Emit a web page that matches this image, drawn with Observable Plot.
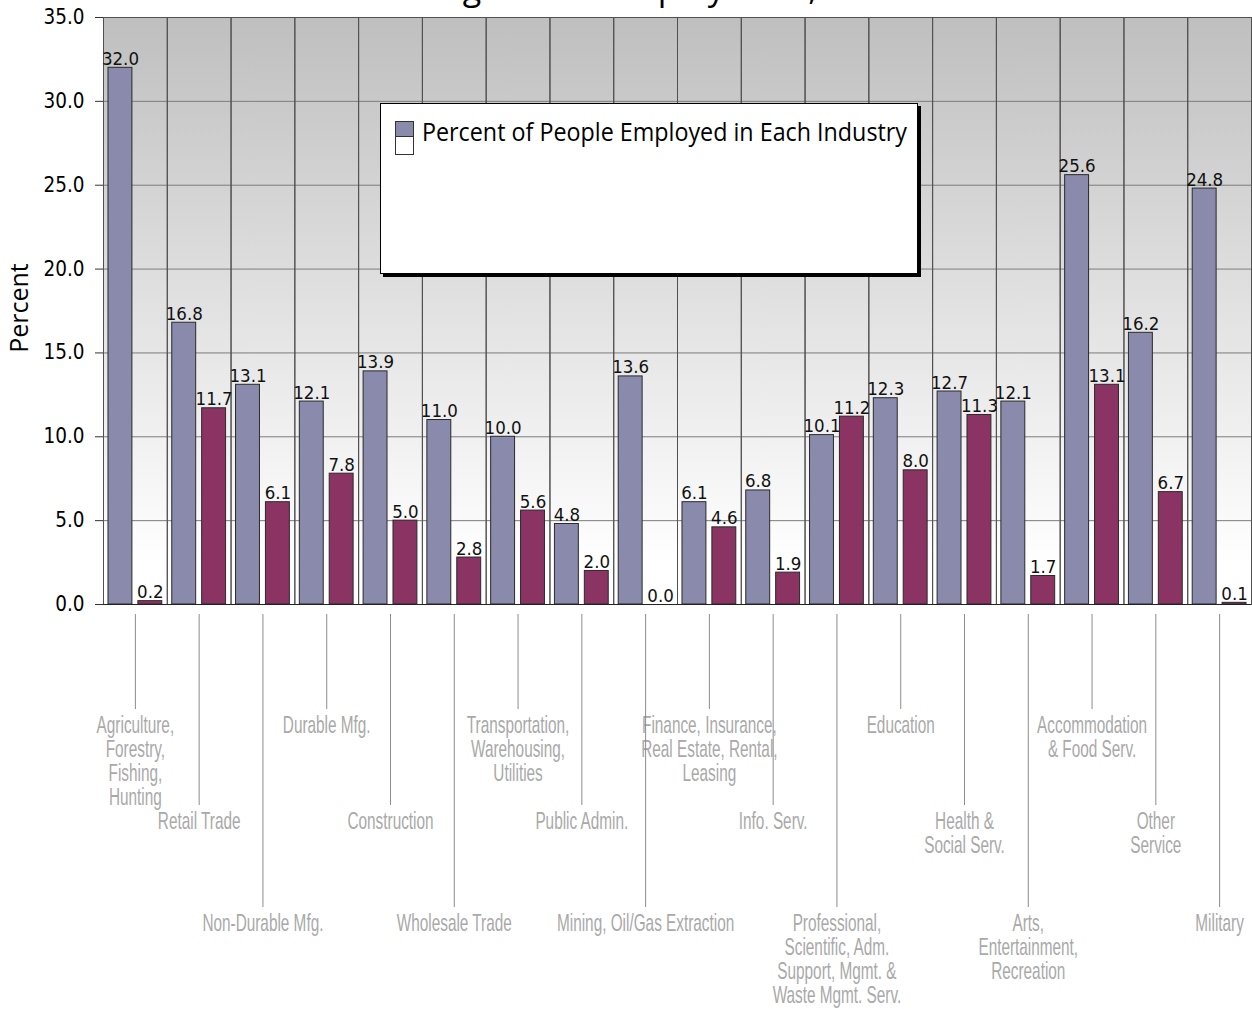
<!DOCTYPE html>
<html>
<head>
<meta charset="utf-8">
<script src="https://cdn.jsdelivr.net/npm/d3@7"></script>
<script src="https://cdn.jsdelivr.net/npm/@observablehq/plot@0.6"></script>
<style>
  html, body { margin: 0; padding: 0; background: #fff; overflow: hidden; }
  #wrap { position: relative; width: 1252px; height: 1009px; }
  #title { position: absolute; top: -30px; left: 366px; font: 34px/34px "Open Sans", sans-serif; color: #000; white-space: nowrap; }
  #ylabel { position: absolute; left: 18px; top: 308px; transform: translate(-50%, -50%) rotate(-90deg); font: 25px/25px "Open Sans", sans-serif; color: #000; white-space: nowrap; }
  #legend { position: absolute; left: 380px; top: 103px; width: 538px; height: 171px; box-sizing: border-box; background: #fff; border: 1px solid #000; box-shadow: 3px 3px 0 #000; }
  .sw { position: absolute; box-sizing: border-box; border: 1px solid #333; }
  #legtext { position: absolute; left: 41px; top: 15px; font: 25px/25px "Open Sans", sans-serif; color: #000; white-space: nowrap; transform-origin: 0 0; }
</style>
</head>
<body>
<div id="wrap">
  <div id="chart"></div>
  <div id="title"></div>
  <div id="ylabel"></div>
  <div id="legend"></div>
</div>
<script>
// ---- data ----
const categories = [
  "Agriculture,\nForestry,\nFishing,\nHunting",
  "Retail Trade",
  "Non-Durable Mfg.",
  "Durable Mfg.",
  "Construction",
  "Wholesale Trade",
  "Transportation,\nWarehousing,\nUtilities",
  "Public Admin.",
  "Mining, Oil/Gas Extraction",
  "Finance, Insurance,\nReal Estate, Rental,\nLeasing",
  "Info. Serv.",
  "Professional,\nScientific, Adm.\nSupport, Mgmt. &\nWaste Mgmt. Serv.",
  "Education",
  "Health &\nSocial Serv.",
  "Arts,\nEntertainment,\nRecreation",
  "Accommodation\n& Food Serv.",
  "Other\nService",
  "Military"
];
const seriesKeys = ["s1", "s2"];
const seriesLabels = ["Percent of People Employed in Each Industry", ""];
const series1 = [32.0, 16.8, 13.1, 12.1, 13.9, 11.0, 10.0, 4.8, 13.6, 6.1, 6.8, 10.1, 12.3, 12.7, 12.1, 25.6, 16.2, 24.8];
const series2 = [0.2, 11.7, 6.1, 7.8, 5.0, 2.8, 5.6, 2.0, 0.0, 4.6, 1.9, 11.2, 8.0, 11.3, 1.7, 13.1, 6.7, 0.1];
const yTicks = [0, 5, 10, 15, 20, 25, 30, 35];
const titleText = "Teenage vs. All Employment, 2000";
const yLabel = "Percent";
const colors = ["#8a8aad", "#8b3363"];

// ---- table ----
const data = categories.flatMap((c, i) => [
  {cat: c, series: seriesKeys[0], value: series1[i]},
  {cat: c, series: seriesKeys[1], value: series2[i]}
]);

const catFont = '"Liberation Sans Narrow", "Liberation Sans", Arial, sans-serif';
const numFont = '"DejaVu Sans Condensed", "DejaVu Sans", sans-serif';
const ctx = document.createElement("canvas").getContext("2d");
ctx.font = `24px ${catFont}`;
const catScale = 83 / ctx.measureText("Retail Trade").width;

const levels = [95, 191, 293];
const fxAxes = levels.map((len, k) => Plot.axisFx({
  ticks: categories.filter((c, i) => i % 3 === k),
  anchor: "bottom",
  label: null,
  tickSize: len,
  tickPadding: 6,
  dy: 10,
  stroke: "#8c8c8c",
  fill: "#a9a9a9",
  fontSize: 24,
  lineHeight: 1,
  fontFamily: catFont
}));

const chart = Plot.plot({
  width: 1252,
  height: 1009,
  marginTop: 17,
  marginBottom: 405,
  marginLeft: 103,
  marginRight: 1,
  style: {background: "transparent", overflow: "visible"},
  fx: {domain: categories, padding: 0, round: false, label: null},
  x: {domain: seriesKeys, paddingInner: 0.2, paddingOuter: 0.1667, round: false, axis: null},
  y: {domain: [0, 35], axis: null},
  color: {domain: seriesKeys, range: colors},
  marks: [
    Plot.frame({fill: "url(#bggrad)", stroke: null}),
    Plot.gridY(yTicks, {stroke: "#7c7c7c", strokeOpacity: 1}),
    Plot.frame({stroke: "#505050", strokeWidth: 1}),
    Plot.barY(data, {fx: "cat", x: "series", y: "value", fill: "series", stroke: "#2a2a2a", strokeWidth: 1}),
    Plot.text(data, {fx: "cat", x: "series", y: "value", text: d => d.value.toFixed(1), lineAnchor: "bottom", dy: -3, fontSize: 18.5, fill: "#111", fontFamily: numFont}),
    Plot.ruleY([0], {stroke: "#222"}),
    Plot.axisY({ticks: yTicks, tickFormat: d => d.toFixed(1), tickSize: 8, tickPadding: 11, fontSize: 20.5, fontFamily: numFont, stroke: "#333", fill: "#000", label: null}),
    ...fxAxes
  ]
});

// gradient background definition
chart.insertAdjacentHTML("afterbegin",
  '<defs><linearGradient id="bggrad" x1="0" y1="0" x2="0" y2="1">' +
  '<stop offset="0" stop-color="#bfbfbf"/><stop offset="0.5" stop-color="#e2e2e2"/><stop offset="0.93" stop-color="#ffffff"/><stop offset="1" stop-color="#ffffff"/>' +
  '</linearGradient></defs>');

// condense the category labels horizontally around their anchor
chart.querySelectorAll('g[aria-label="fx-axis tick label"] text').forEach(t => {
  const tr = t.getAttribute("transform");
  if (tr) {
    t.setAttribute("transform", tr + ` scale(${catScale},1)`);
  } else {
    const x = +t.getAttribute("x") || 0, y = +t.getAttribute("y") || 0;
    t.removeAttribute("x"); t.removeAttribute("y");
    t.setAttribute("transform", `translate(${x},${y}) scale(${catScale},1)`);
  }
});

document.getElementById("chart").appendChild(chart);
document.getElementById("title").textContent = titleText;
document.getElementById("ylabel").textContent = yLabel;

// legend
const legend = document.getElementById("legend");
const sw1 = document.createElement("div");
sw1.className = "sw";
Object.assign(sw1.style, {left: "14px", top: "17px", width: "19px", height: "16px", background: colors[0]});
const sw2 = document.createElement("div");
sw2.className = "sw";
Object.assign(sw2.style, {left: "14px", top: "32px", width: "19px", height: "19px", background: "#fff"});
legend.appendChild(sw2);
legend.appendChild(sw1);
const lt = document.createElement("div");
lt.id = "legtext";
lt.textContent = seriesLabels[0];
ctx.font = '25px "Open Sans"';
const lw = ctx.measureText(seriesLabels[0]).width;
lt.style.transform = `scale(${485 / lw}, 1)`;
legend.appendChild(lt);
</script>
</body>
</html>
